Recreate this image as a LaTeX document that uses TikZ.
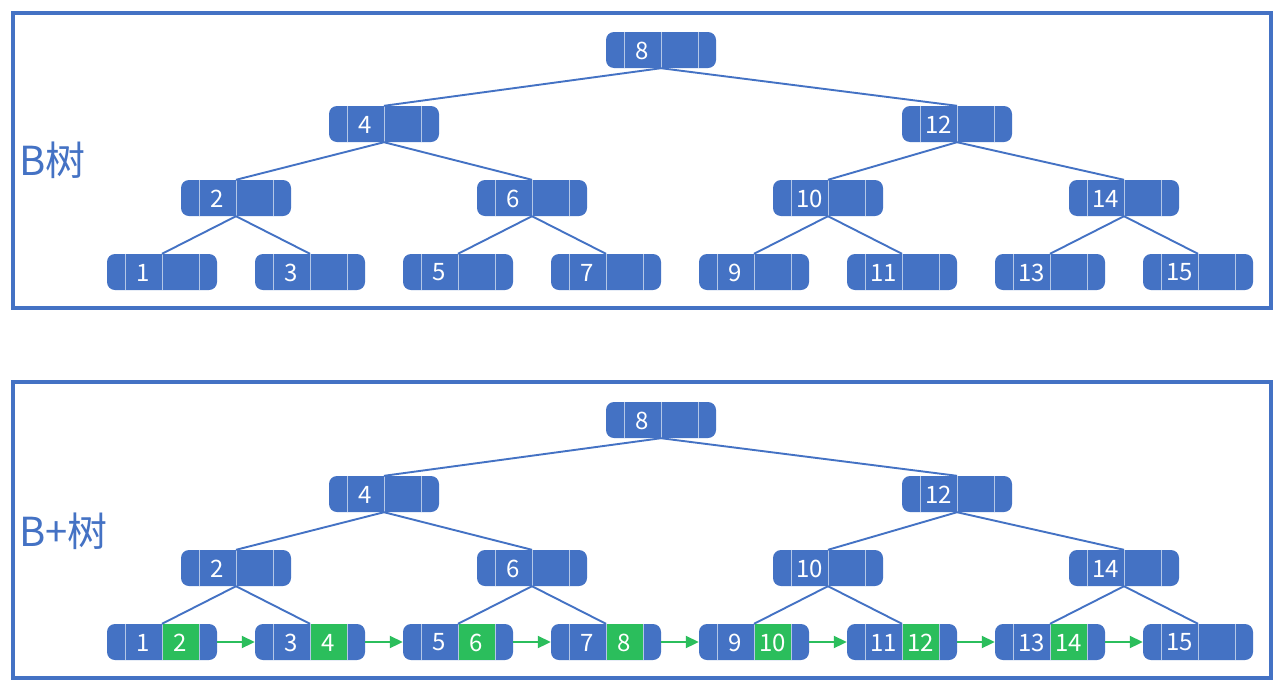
\documentclass[tikz,border=0pt]{standalone}
\usepackage{fontspec}
\newfontfamily\cjk{Noto Sans CJK SC}
\usetikzlibrary{arrows.meta}
\definecolor{nodeblue}{HTML}{4472C4}
\definecolor{leafgreen}{HTML}{2BBE5C}
\definecolor{divline}{HTML}{B4C7E7}
\tikzset{
  bnode/.style={rectangle, rounded corners=8pt, fill=nodeblue, minimum width=110pt, minimum height=36pt, inner sep=0pt},
  keytxt/.style={text=white, font=\cjk\fontsize{24}{24}\selectfont, inner sep=0pt},
  divider/.style={draw=divline, line width=0.9pt},
  treeedge/.style={draw=nodeblue, line width=1.9pt},
  linkarrow/.style={draw=leafgreen, line width=1.9pt, -{Triangle[length=13pt,width=12pt]}},
  framebox/.style={draw=nodeblue, line width=3.2pt, rectangle, inner sep=0pt},
  treelabel/.style={text=nodeblue, font=\cjk\fontsize{40}{40}\selectfont, inner sep=0pt, anchor=west},
}
% name, x, y, first key, second key (green, optional)
\newcommand{\treenode}[5]{%
  \node[bnode] (#1) at (#2,#3) {};
  \if\relax\detokenize{#5}\relax\else
    \fill[leafgreen] (#1.north) rectangle ([xshift=37pt]#1.south);
    \node[keytxt] (#1k2) at ([xshift=18.5pt,yshift=-0.5pt]#1.center) {#5};
  \fi
  \draw[divider] ([xshift=-37pt]#1.north) -- ([xshift=-37pt]#1.south);
  \draw[divider] (#1.north) -- (#1.south);
  \draw[divider] ([xshift=37pt]#1.north) -- ([xshift=37pt]#1.south);
  \node[keytxt] (#1k1) at ([xshift=-18.5pt,yshift=-0.5pt]#1.center) {#4};
}
\begin{document}
\begin{tikzpicture}[x=1pt, y=-1pt]
\useasboundingbox (0,0) rectangle (1281,683);
\fill[white] (0,0) rectangle (1281,683);

% frames
\node[framebox, minimum width=1258pt, minimum height=295pt] (frameA) at (642,160.5) {};
\node[framebox, minimum width=1258pt, minimum height=296pt] (frameB) at (642,530) {};
\node[treelabel] (labA) at (19,160) {B树};
\node[treelabel] (labB) at (19,531) {B+树};

% ---------- B tree ----------
\treenode{a8}{661}{50}{8}{}
\treenode{a4}{384}{124}{4}{}
\treenode{a12}{957}{124}{12}{}
\treenode{a2}{236}{198}{2}{}
\treenode{a6}{532}{198}{6}{}
\treenode{a10}{828}{198}{10}{}
\treenode{a14}{1124}{198}{14}{}
\treenode{a1}{162}{272}{1}{}
\treenode{a3}{310}{272}{3}{}
\treenode{a5}{458}{272}{5}{}
\treenode{a7}{606}{272}{7}{}
\treenode{a9}{754}{272}{9}{}
\treenode{a11}{902}{272}{11}{}
\treenode{a13}{1050}{272}{13}{}
\treenode{a15}{1198}{272}{15}{}
\draw[treeedge] (a8.south) -- (a4.north);
\draw[treeedge] (a8.south) -- (a12.north);
\draw[treeedge] (a4.south) -- (a2.north);
\draw[treeedge] (a4.south) -- (a6.north);
\draw[treeedge] (a12.south) -- (a10.north);
\draw[treeedge] (a12.south) -- (a14.north);
\draw[treeedge] (a2.south) -- (a1.north);
\draw[treeedge] (a2.south) -- (a3.north);
\draw[treeedge] (a6.south) -- (a5.north);
\draw[treeedge] (a6.south) -- (a7.north);
\draw[treeedge] (a10.south) -- (a9.north);
\draw[treeedge] (a10.south) -- (a11.north);
\draw[treeedge] (a14.south) -- (a13.north);
\draw[treeedge] (a14.south) -- (a15.north);

% ---------- B+ tree ----------
\treenode{b8}{661}{420}{8}{}
\treenode{b4}{384}{494}{4}{}
\treenode{b12}{957}{494}{12}{}
\treenode{b2}{236}{568}{2}{}
\treenode{b6}{532}{568}{6}{}
\treenode{b10}{828}{568}{10}{}
\treenode{b14}{1124}{568}{14}{}
\treenode{b1}{162}{642}{1}{2}
\treenode{b3}{310}{642}{3}{4}
\treenode{b5}{458}{642}{5}{6}
\treenode{b7}{606}{642}{7}{8}
\treenode{b9}{754}{642}{9}{10}
\treenode{b11}{902}{642}{11}{12}
\treenode{b13}{1050}{642}{13}{14}
\treenode{b15}{1198}{642}{15}{}
\draw[treeedge] (b8.south) -- (b4.north);
\draw[treeedge] (b8.south) -- (b12.north);
\draw[treeedge] (b4.south) -- (b2.north);
\draw[treeedge] (b4.south) -- (b6.north);
\draw[treeedge] (b12.south) -- (b10.north);
\draw[treeedge] (b12.south) -- (b14.north);
\draw[treeedge] (b2.south) -- (b1.north);
\draw[treeedge] (b2.south) -- (b3.north);
\draw[treeedge] (b6.south) -- (b5.north);
\draw[treeedge] (b6.south) -- (b7.north);
\draw[treeedge] (b10.south) -- (b9.north);
\draw[treeedge] (b10.south) -- (b11.north);
\draw[treeedge] (b14.south) -- (b13.north);
\draw[treeedge] (b14.south) -- (b15.north);
\draw[linkarrow] (b1.east) -- (b3.west);
\draw[linkarrow] (b3.east) -- (b5.west);
\draw[linkarrow] (b5.east) -- (b7.west);
\draw[linkarrow] (b7.east) -- (b9.west);
\draw[linkarrow] (b9.east) -- (b11.west);
\draw[linkarrow] (b11.east) -- (b13.west);
\draw[linkarrow] (b13.east) -- (b15.west);
\end{tikzpicture}
\end{document}
